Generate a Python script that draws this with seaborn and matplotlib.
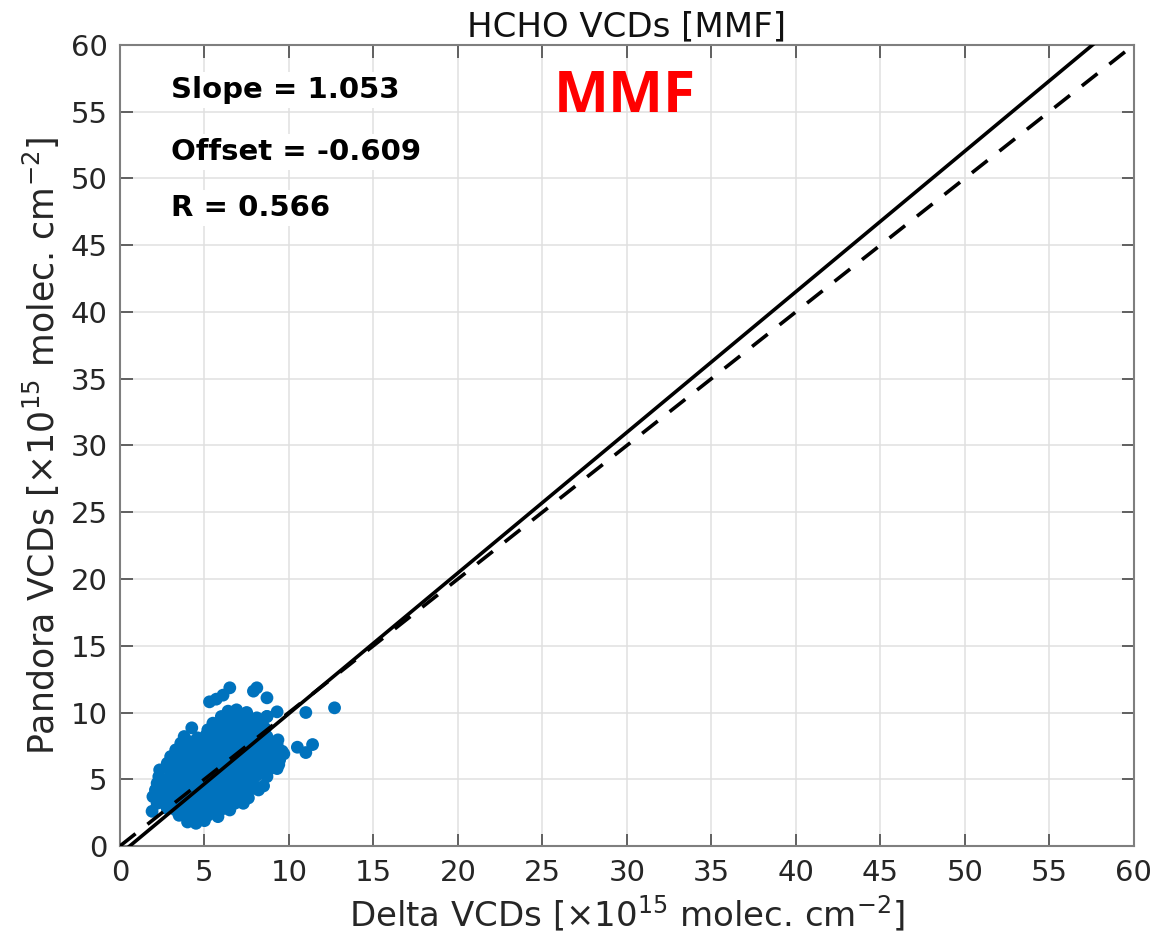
import numpy as np
import pandas as pd
import matplotlib
matplotlib.use("Agg")
import matplotlib.pyplot as plt
import seaborn as sns

# cores estilo MATLAB
AZUL = "#0072BD"
CINZA_EIXO = "#7f7f7f"
CINZA_GRADE = "#e0e0e0"

# estatisticas da regressao
slope = 1.053
offset = -0.609
r_val = 0.566

# pontos (Delta x Pandora, 1e15 molec/cm2)
delta_vcd = [
    4.0, 4.5, 5.0,
    3.5, 4.0, 4.6, 5.2, 5.8,
    1.9, 2.8, 3.3, 3.9, 4.4, 5.0, 5.5, 6.1, 6.5,
    2.2, 2.7, 3.2, 3.7, 4.2, 4.8, 5.3, 5.8, 6.3, 6.8, 7.3,
    1.95, 2.5, 3.0, 3.5, 4.0, 4.5, 5.0, 5.6, 6.1, 6.6, 7.1, 7.6,
    2.1, 2.6, 3.1, 3.6, 4.1, 4.7, 5.2, 5.7, 6.2, 6.8, 7.3, 7.8, 8.2,
    2.2, 2.7, 3.2, 3.8, 4.3, 4.8, 5.4, 5.9, 6.4, 6.9, 7.4, 7.9, 8.5,
    2.3, 2.9, 3.4, 3.9, 4.5, 5.0, 5.5, 6.0, 6.6, 7.1, 7.6, 8.1, 8.7,
    2.35, 2.9, 3.5, 4.0, 4.5, 5.1, 5.6, 6.2, 6.7, 7.2, 7.8, 8.3, 8.8, 9.3,
    2.8, 3.3, 3.8, 4.3, 4.9, 5.4, 5.9, 6.4, 7.0, 7.5, 8.0, 8.5, 9.0, 9.4,
    3.0, 3.6, 4.1, 4.6, 5.1, 5.7, 6.2, 6.7, 7.2, 7.8, 8.3, 8.8, 9.3, 9.7,
    3.3, 3.8, 4.4, 4.9, 5.4, 5.9, 6.5, 7.0, 7.5, 8.0, 8.5, 9.0, 9.6,
    3.6, 4.2, 4.8, 5.3, 5.8, 6.3, 6.8, 7.4, 7.9, 8.4, 8.9, 9.3,
    3.8, 4.6, 5.1, 5.6, 6.1, 6.7, 7.2, 7.7, 8.2, 8.7,
    4.25, 5.2, 5.7, 6.2, 6.7, 7.2, 7.7, 8.2, 8.6,
    5.5, 6.0, 6.5, 7.0, 7.5, 8.0, 8.4,
    6.0, 6.5, 7.0, 7.5, 8.1, 8.7,
    6.4, 6.9, 7.5,
    5.3, 5.7, 6.1, 6.5, 7.9, 8.1, 8.7, 9.3, 11.0, 12.7,
    10.5, 11.4, 11.0, 9.45, 9.35, 8.7,
]
pandora_vcd = [
    1.8, 1.7, 1.9,
    2.3, 2.2, 2.1, 2.3, 2.2,
    2.6, 2.8, 2.7, 2.6, 2.8, 2.7, 2.6, 2.8, 2.7,
    3.2, 3.1, 3.3, 3.2, 3.1, 3.3, 3.2, 3.1, 3.3, 3.2, 3.2,
    3.7, 3.8, 3.6, 3.7, 3.8, 3.6, 3.7, 3.8, 3.6, 3.7, 3.8, 3.6,
    4.2, 4.1, 4.3, 4.2, 4.1, 4.3, 4.2, 4.1, 4.3, 4.2, 4.1, 4.3, 4.2,
    4.7, 4.8, 4.6, 4.7, 4.8, 4.6, 4.7, 4.8, 4.6, 4.7, 4.8, 4.6, 4.5,
    5.2, 5.1, 5.3, 5.2, 5.1, 5.3, 5.2, 5.1, 5.3, 5.2, 5.1, 5.3, 5.2,
    5.7, 5.8, 5.6, 5.7, 5.8, 5.6, 5.7, 5.8, 5.6, 5.7, 5.8, 5.6, 5.7, 5.8,
    6.2, 6.1, 6.3, 6.2, 6.1, 6.3, 6.2, 6.1, 6.3, 6.2, 6.1, 6.3, 6.2, 6.1,
    6.7, 6.8, 6.6, 6.7, 6.8, 6.6, 6.7, 6.8, 6.6, 6.7, 6.8, 6.6, 6.7, 6.9,
    7.2, 7.1, 7.3, 7.2, 7.1, 7.3, 7.2, 7.1, 7.3, 7.2, 7.1, 7.3, 7.1,
    7.7, 7.8, 7.6, 7.7, 7.8, 7.6, 7.7, 7.8, 7.6, 7.7, 7.8, 7.6,
    8.2, 8.1, 8.3, 8.2, 8.1, 8.3, 8.2, 8.1, 8.3, 8.2,
    8.85, 8.7, 8.8, 8.6, 8.7, 8.8, 8.6, 8.7, 8.8,
    9.2, 9.3, 9.1, 9.2, 9.3, 9.1, 9.2,
    9.7, 9.6, 9.8, 9.7, 9.6, 9.7,
    10.1, 10.2, 10.0,
    10.8, 11.0, 11.3, 11.85, 11.6, 11.85, 11.1, 10.05, 10.0, 10.35,
    7.4, 7.6, 7.0, 6.45, 7.95, 9.7,
]

df = pd.DataFrame({"Delta": delta_vcd, "Pandora": pandora_vcd})

ticks = list(range(0, 61, 5))

# linhas: ajuste e 1:1
linha_x = [0, 60]
ajuste_y = [slope * v + offset for v in linha_x]

sns.set_theme(style="white")
plt.rcParams["font.family"] = ["DejaVu Sans"]

fig = plt.figure(figsize=(11.58, 9.51), dpi=100)
ax = fig.add_axes([0.1036, 0.1104, 0.8754, 0.8423])

sns.scatterplot(data=df, x="Delta", y="Pandora", ax=ax, color=AZUL,
                s=85, edgecolor="none", linewidth=0, zorder=3)
sns.lineplot(x=linha_x, y=ajuste_y, ax=ax, color="black", lw=2.6, zorder=4)
ax.plot(linha_x, linha_x, color="black", lw=2.6, ls=(0, (5.5, 4.2)), zorder=4)

ax.set_xlim(0, 60)
ax.set_ylim(0, 60)
ax.set_xticks(ticks)
ax.set_yticks(ticks)
ax.grid(True, color=CINZA_GRADE, lw=1.1)
ax.set_axisbelow(True)
for sp in ax.spines.values():
    sp.set_color(CINZA_EIXO)
    sp.set_linewidth(1.5)
ax.tick_params(direction="in", length=9, width=1.3, color="#555555",
               labelsize=21, labelcolor="#262626", top=True, right=True,
               bottom=True, left=True, pad=9)

ax.set_title("HCHO VCDs [MMF]", fontsize=24.5, color="#111111", pad=6)
ax.set_xlabel(r"Delta VCDs [$\times$10$^{15}$ molec. cm$^{-2}$]",
              fontsize=24.5, color="#262626", labelpad=5)
ax.set_ylabel(r"Pandora VCDs [$\times$10$^{15}$ molec. cm$^{-2}$]",
              fontsize=25, color="#262626", labelpad=6)

caixa = dict(facecolor="white", edgecolor="none", pad=3)
ax.text(3.0, 56.6, f"Slope = {slope:.3f}", fontsize=21, fontweight="bold",
        color="black", va="center", ha="left", bbox=caixa, zorder=5)
ax.text(3.0, 52.0, f"Offset = {offset:.3f}", fontsize=21, fontweight="bold",
        color="black", va="center", ha="left", bbox=caixa, zorder=5)
ax.text(3.0, 47.8, f"R = {r_val:.3f}", fontsize=21, fontweight="bold",
        color="black", va="center", ha="left", bbox=caixa, zorder=5)
ax.text(29.9, 56.1, "MMF", fontsize=42, fontweight="bold", color="#ff0000",
        family=["Open Sans", "DejaVu Sans"], va="center", ha="center", zorder=5)

fig.savefig("out.png", dpi=100)
